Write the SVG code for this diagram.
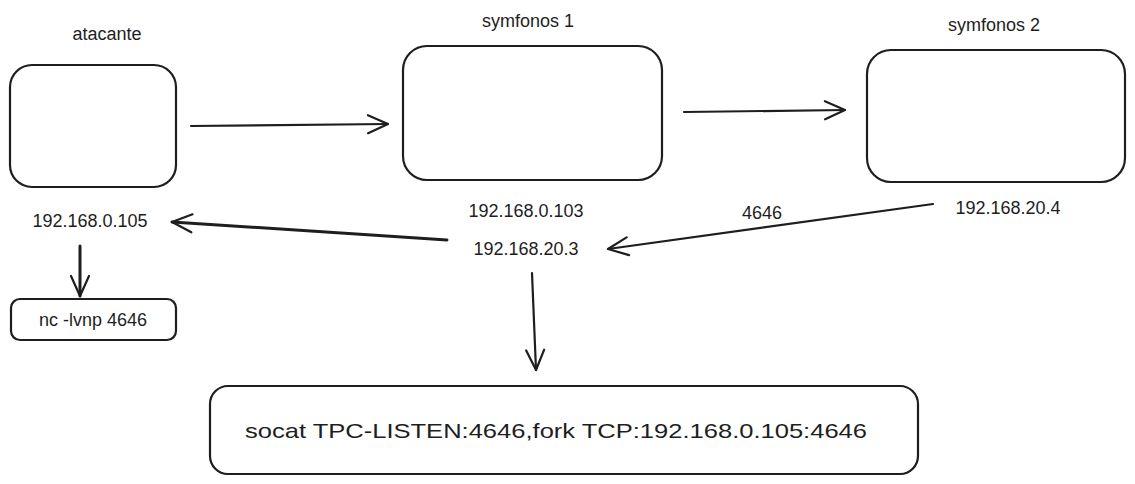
<svg xmlns="http://www.w3.org/2000/svg" width="1135" height="484" viewBox="0 0 1135 484">
<style>
.box{fill:#fff;stroke:#1e1e1e;stroke-width:2.2}
.lbl{font-family:"Liberation Sans",Arial,sans-serif;font-size:18px;fill:#1e1e1e;text-anchor:middle}
.edge{fill:none;stroke:#1e1e1e;stroke-width:2.2;stroke-linecap:round}
</style>
<defs>
<marker id="arr" viewBox="0 0 24 24" refX="22" refY="12" markerWidth="24" markerHeight="24" markerUnits="userSpaceOnUse" orient="auto">
<path d="M2,3 L22,12 L2,21" fill="none" stroke="#1e1e1e" stroke-width="2.2" stroke-linecap="round" stroke-linejoin="round"/>
</marker>
</defs>
<rect width="1135" height="484" fill="#fff"/>
<g id="atacante">
<rect class="box" x="10" y="65" width="166" height="122" rx="22"/>
<text class="lbl" x="107" y="40">atacante</text>
<text class="lbl" x="90" y="227">192.168.0.105</text>
</g>
<g id="symfonos1">
<rect class="box" x="403" y="46" width="259" height="134" rx="24"/>
<text class="lbl" x="528" y="27">symfonos 1</text>
<text class="lbl" x="526" y="217">192.168.0.103</text>
<text class="lbl" x="526" y="255">192.168.20.3</text>
</g>
<g id="symfonos2">
<rect class="box" x="867" y="50" width="258" height="132" rx="24"/>
<text class="lbl" x="994" y="31">symfonos 2</text>
<text class="lbl" x="1008" y="214">192.168.20.4</text>
</g>
<g id="nc">
<rect class="box" x="11" y="299" width="165" height="41" rx="9"/>
<text class="lbl" x="93" y="326">nc -lvnp 4646</text>
</g>
<g id="socat">
<rect class="box" x="210" y="386" width="708" height="88" rx="18"/>
<text class="lbl" x="556" y="438" style="font-size:21px" textLength="622" lengthAdjust="spacingAndGlyphs">socat TPC-LISTEN:4646,fork TCP:192.168.0.105:4646</text>
</g>
<g id="connectors">
<line class="edge" x1="191" y1="126" x2="388" y2="124" marker-end="url(#arr)"/>
<line class="edge" x1="684" y1="112" x2="845" y2="110" marker-end="url(#arr)"/>
<line class="edge" x1="933" y1="204" x2="608" y2="249" marker-end="url(#arr)"/>
<line class="edge" x1="447" y1="240" x2="172" y2="222" marker-end="url(#arr)" style="stroke-width:3"/>
<line class="edge" x1="80" y1="246" x2="80" y2="296" marker-end="url(#arr)" style="stroke-width:3"/>
<line class="edge" x1="532" y1="273" x2="536" y2="370" marker-end="url(#arr)"/>
<text class="lbl" x="762" y="219">4646</text>
</g>
</svg>
